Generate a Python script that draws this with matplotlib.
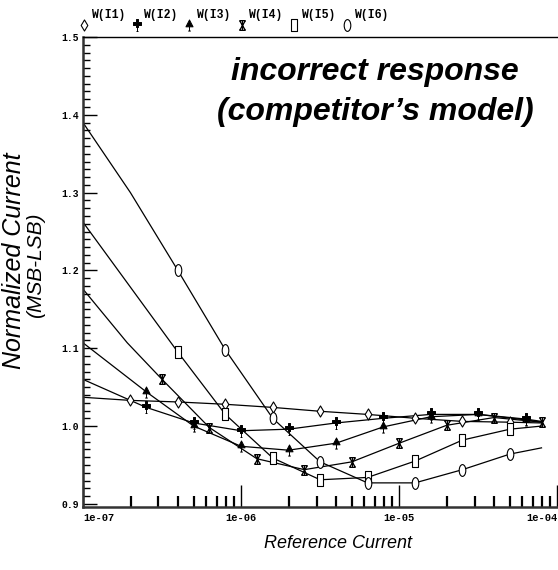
import numpy as np
import matplotlib
matplotlib.use("Agg")
import matplotlib.pyplot as plt
from matplotlib.path import Path
from matplotlib.ticker import FixedLocator, NullFormatter

# reference current sweep points (log10 of current) and normalized current for each W(In)
i1_exp = [-7.0, -6.7, -6.4, -6.1, -5.8, -5.5, -5.2, -4.9, -4.6, -4.3, -4.1]
i1_val = [1.037, 1.033, 1.031, 1.028, 1.024, 1.019, 1.015, 1.010, 1.006, 1.005, 1.004]

i2_exp = [-7.0, -6.6, -6.3, -6.0, -5.7, -5.4, -5.1, -4.8, -4.5, -4.2, -4.1]
i2_val = [1.060, 1.024, 1.004, 0.994, 0.996, 1.004, 1.010, 1.015, 1.015, 1.009, 1.006]

i3_exp = [-7.0, -6.6, -6.3, -6.0, -5.7, -5.4, -5.1, -4.8, -4.5, -4.2, -4.1]
i3_val = [1.107, 1.044, 1.000, 0.974, 0.969, 0.978, 0.999, 1.012, 1.015, 1.008, 1.005]

i4_exp = [-7.0, -6.72, -6.5, -6.2, -5.9, -5.6, -5.3, -5.0, -4.7, -4.4, -4.1]
i4_val = [1.176, 1.107, 1.060, 0.998, 0.958, 0.944, 0.954, 0.978, 1.001, 1.011, 1.005]

i5_exp = [-7.0, -6.4, -6.1, -5.8, -5.5, -5.2, -4.9, -4.6, -4.3, -4.1]
i5_val = [1.262, 1.095, 1.015, 0.959, 0.931, 0.934, 0.955, 0.982, 0.996, 1.000]

i6_exp = [-7.0, -6.7, -6.4, -6.1, -5.8, -5.5, -5.2, -4.9, -4.6, -4.3, -4.1]
i6_val = [1.390, 1.300, 1.200, 1.098, 1.010, 0.954, 0.927, 0.927, 0.944, 0.964, 0.972]

# which samples carry a symbol
i1_marks = [1, 2, 3, 4, 5, 6, 7, 8, 9]
i2_marks = [1, 2, 3, 4, 5, 6, 7, 8, 9]
i3_marks = [1, 2, 3, 4, 5, 6, 7, 8, 9]
i4_marks = [2, 3, 4, 5, 6, 7, 8, 9, 10]
i5_marks = [1, 2, 3, 4, 5, 6, 7, 8]
i6_marks = [2, 3, 4, 5, 6, 7, 8, 9]

labels = ["W(I1)", "W(I2)", "W(I3)", "W(I4)", "W(I5)", "W(I6)"]

M, L, C = Path.MOVETO, Path.LINETO, Path.CLOSEPOLY

# tall open box and oval
rect = Path([(-0.3, -0.5), (0.3, -0.5), (0.3, 0.5), (-0.3, 0.5), (-0.3, -0.5)],
            [M, L, L, L, C])
circ = Path.unit_circle()
oval = Path(circ.vertices * [0.28, 0.5], circ.codes)

# thin open diamond
dia = Path([(0.0, -0.5), (0.3, 0.0), (0.0, 0.5), (-0.3, 0.0), (0.0, -0.5)],
           [M, L, L, L, C])

# filled triangle sitting on a short stem
tri = Path([(-0.32, -0.12), (0.32, -0.12), (0.0, 0.5), (-0.32, -0.12),
            (0.0, -0.12), (0.0, -0.5), (-0.12, -0.5), (0.12, -0.5)],
           [M, L, L, C, M, L, M, L])

# thick cross on a stem
club = Path([(-0.1, 0.5), (0.1, 0.5), (0.1, 0.22), (0.3, 0.22), (0.3, 0.02),
             (0.1, 0.02), (0.1, -0.2), (-0.1, -0.2), (-0.1, 0.02), (-0.3, 0.02),
             (-0.3, 0.22), (-0.1, 0.22), (-0.1, 0.5),
             (0.0, -0.2), (0.0, -0.5), (-0.12, -0.5), (0.12, -0.5)],
            [M, L, L, L, L, L, L, L, L, L, L, L, C, M, L, M, L])

# hourglass-like star
star = Path([(0.0, -0.5), (0.0, 0.5),
             (-0.3, -0.5), (0.3, 0.5),
             (-0.3, 0.5), (0.3, -0.5),
             (-0.3, 0.5), (0.3, 0.5),
             (-0.3, -0.5), (0.3, -0.5)],
            [M, L, M, L, M, L, M, L, M, L])

styles = [
    dict(marker=dia, ms=8, mfc="white", mew=0.8),
    dict(marker=club, ms=8.5, mfc="black", mew=0.7),
    dict(marker=tri, ms=8, mfc="black", mew=0.7),
    dict(marker=star, ms=7, mfc="none", mew=0.9),
    dict(marker=rect, ms=8, mfc="white", mew=0.8),
    dict(marker=oval, ms=8.5, mfc="white", mew=0.8),
]

series = [
    (i1_exp, i1_val, i1_marks),
    (i2_exp, i2_val, i2_marks),
    (i3_exp, i3_val, i3_marks),
    (i4_exp, i4_val, i4_marks),
    (i5_exp, i5_val, i5_marks),
    (i6_exp, i6_val, i6_marks),
]

fig = plt.figure(figsize=(5.58, 5.70), dpi=100)
ax = fig.add_axes([83 / 558, 63 / 570, 475 / 558, 470 / 570])

for (ex, val, marks), st in zip(series, styles):
    x = 10.0 ** np.array(ex)
    y = np.array(val)
    ax.plot(x, y, color="black", lw=0.9, zorder=2)
    ax.plot(x[marks], y[marks], ls="none", color="black", mec="black",
            zorder=3, **st)

ax.set_xscale("log")
ax.set_xlim(1e-7, 1.01e-4)
ax.set_ylim(0.896, 1.5)

# axis ticks
mono = "Liberation Mono"
ax.set_xticks([1e-7, 1e-6, 1e-5, 1e-4])
ax.set_xticklabels(["1e-07", "1e-06", "1e-05", "1e-04"], family=mono,
                   weight="bold", fontsize=7.5)
xl = ax.get_xticklabels()
xl[0].set_ha("left")
xl[-1].set_ha("right")
ax.xaxis.set_minor_locator(FixedLocator(
    [m * 10.0 ** e for e in (-7, -6, -5) for m in range(2, 10)]))
ax.xaxis.set_minor_formatter(NullFormatter())
ax.tick_params(axis="x", which="major", direction="in", length=16, width=1.0,
               pad=4)
ax.tick_params(axis="x", which="minor", direction="in", length=8, width=1.6)

ax.set_yticks([0.9, 1.0, 1.1, 1.2, 1.3, 1.4, 1.5])
ax.set_yticklabels(["0.9", "1.0", "1.1", "1.2", "1.3", "1.4", "1.5"],
                   family=mono, weight="bold", fontsize=7)
ax.yaxis.set_minor_locator(FixedLocator(np.arange(0.9, 1.5, 0.01)))
ax.tick_params(axis="y", which="major", direction="in", length=10, width=1.0,
               pad=3)
ax.tick_params(axis="y", which="minor", direction="in", length=5, width=1.0)

for side in ("left", "bottom"):
    ax.spines[side].set_linewidth(1.8)
    ax.spines[side].set_color("#333333")
ax.spines["top"].set_linewidth(1.0)
ax.spines["right"].set_visible(False)

# legend row above the plot
for k, (lab, st) in enumerate(zip(labels, styles)):
    x0 = (84 + 52.6 * k - 83) / 475
    ax.plot([x0], [1.025], ls="none", color="black", mec="black",
            transform=ax.transAxes, clip_on=False, **st)
    ax.text(x0 + 0.014, 1.034, lab, transform=ax.transAxes, family=mono,
            weight="bold", fontsize=8.3, ha="left", va="bottom")

ax.text(375 / 558, 1 - 92 / 570, "incorrect response\n(competitor\u2019s model)",
        transform=fig.transFigure, ha="center", va="center",
        family="Liberation Sans", style="italic", weight="bold", fontsize=23,
        linespacing=1.4)

fig.text(0.5 * (263 + 414) / 558, 1 - 543 / 570, "Reference Current",
         family="Liberation Sans", style="italic", fontsize=13,
         ha="center", va="center")
fig.text(14 / 558, 1 - 261 / 570, "Normalized Current",
         family="Liberation Sans", style="italic", fontsize=18,
         rotation=90, ha="center", va="center")
fig.text(36 / 558, 1 - 265 / 570, "(MSB-LSB)",
         family="Liberation Sans", style="italic", fontsize=15,
         rotation=90, ha="center", va="center")

fig.savefig("out.png", dpi=100)
